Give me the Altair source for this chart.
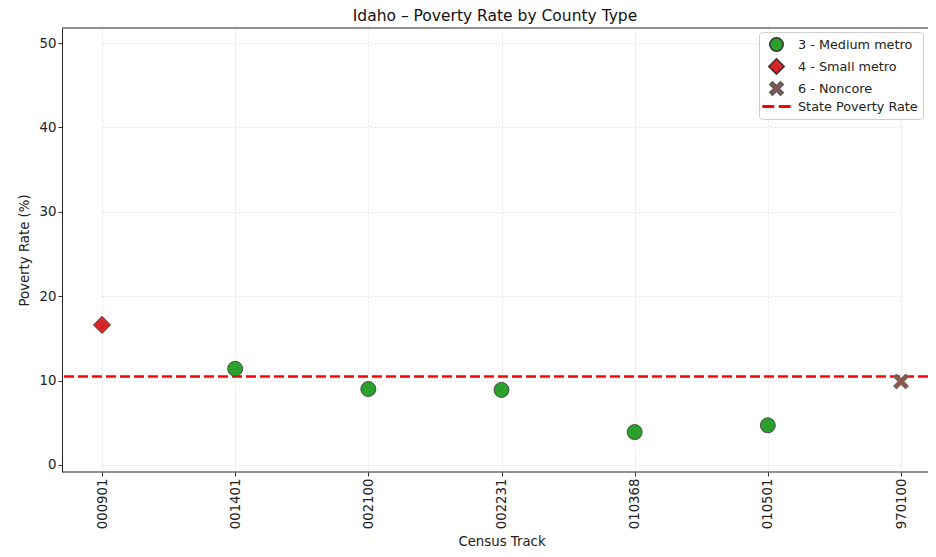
import altair as alt
import pandas as pd

# ---- data ----
tracts = ["000901", "001401", "002100", "002231", "010368", "010501", "970100"]
rates = [16.6, 11.4, 9.0, 8.9, 3.9, 4.7, 9.9]
county_types = ["4 - Small metro", "3 - Medium metro", "3 - Medium metro",
                "3 - Medium metro", "3 - Medium metro", "3 - Medium metro",
                "6 - Noncore"]
state_rate = [10.5]
y_ticks = [0, 10, 20, 30, 40, 50]

legend_labels = ["3 - Medium metro", "4 - Small metro", "6 - Noncore", "State Poverty Rate"]
legend_fills = ["#2ca02c", "#d62728", "#8c564b", "#ff0000"]
legend_strokes = ["#333333", "#333333", "#5a5a5a", "#ff0000"]
X_PATH = "M-1,-0.6L-0.6,-1L0,-0.4L0.6,-1L1,-0.6L0.4,0L1,0.6L0.6,1L0,0.4L-0.6,1L-1,0.6L-0.4,0Z"
DIAMOND_PATH = "M0,-1.15L1.15,0L0,1.15L-1.15,0Z"
DASH_PATH = "M-2,-0.12H-0.45V0.12H-2Z M0.45,-0.12H2V0.12H0.45Z"
legend_shapes = ["circle", DIAMOND_PATH, X_PATH, DASH_PATH]

df = pd.DataFrame({"tract": tracts, "rate": rates, "type": county_types})
rate_df = pd.DataFrame({"rate": state_rate})

FONT = "DejaVu Sans"
W, H = 866, 444

x_enc = alt.X(
    "tract:N", sort=tracts,
    scale=alt.Scale(type="point", range=[40, 839], padding=0),
    axis=alt.Axis(title="Census Track", labelAngle=270, titlePadding=6, domain=False),
)
y_scale = alt.Scale(domain=[-0.83, 51.78], nice=False, zero=False)
y_axis = alt.Axis(title="Poverty Rate (%)", values=y_ticks, titlePadding=8,
                  domain=True, domainColor="#222222", domainWidth=1)

leg = alt.Legend(title=None, orient="none", legendX=697, legendY=4,
                 fillColor="white", strokeColor="#cccccc", cornerRadius=3,
                 padding=5, symbolOffset=5, labelOffset=14, rowPadding=0,
                 symbolSize=180,
                 labelFont=FONT, labelFontSize=12.8, labelColor="#222222")

# frame lines (top and bottom spines) spanning the plot width
spine_top = alt.Chart(pd.DataFrame({"edge": ["top"]})).mark_rule(
    color="#222222", strokeWidth=1
).encode(y=alt.YValue(0))
spine_bottom = alt.Chart(pd.DataFrame({"edge": ["bottom"]})).mark_rule(
    color="#222222", strokeWidth=1
).encode(y=alt.YValue(H))

rule = alt.Chart(rate_df).mark_rule(
    color="#ff0000", strokeWidth=2.5, strokeDash=[10, 4]
).encode(y=alt.Y("rate:Q", scale=y_scale, axis=y_axis))

points = alt.Chart(df).mark_point(
    filled=True, size=225, strokeWidth=0.8, opacity=1
).encode(
    x=x_enc,
    y=alt.Y("rate:Q", scale=y_scale, axis=y_axis),
    color=alt.Color("type:N", scale=alt.Scale(domain=legend_labels, range=legend_fills), legend=leg),
    shape=alt.Shape("type:N", scale=alt.Scale(domain=legend_labels, range=legend_shapes), legend=leg),
    stroke=alt.Stroke("type:N", scale=alt.Scale(domain=legend_labels, range=legend_strokes), legend=leg),
)

chart = alt.layer(rule, points, spine_top, spine_bottom).properties(
    width=W, height=H,
    title="Idaho – Poverty Rate by County Type",
    autosize=alt.AutoSizeParams(type="none"),
    padding={"left": 54, "top": 20, "right": 0, "bottom": 77},
).configure_view(
    stroke=None
).configure_title(
    font=FONT, fontSize=15.5, fontWeight="normal", color="#111111", offset=3, anchor="middle"
).configure_axis(
    labelFont=FONT, titleFont=FONT, labelFontSize=13.3, titleFontSize=13.3,
    titleFontWeight="normal", labelColor="#222222", titleColor="#222222",
    tickColor="#333333", tickSize=4,
    grid=True, gridColor="#d0d0d0", gridDash=[2, 2], gridWidth=0.6,
)

chart.save("out.html", embed_options={"renderer": "svg", "actions": False})
